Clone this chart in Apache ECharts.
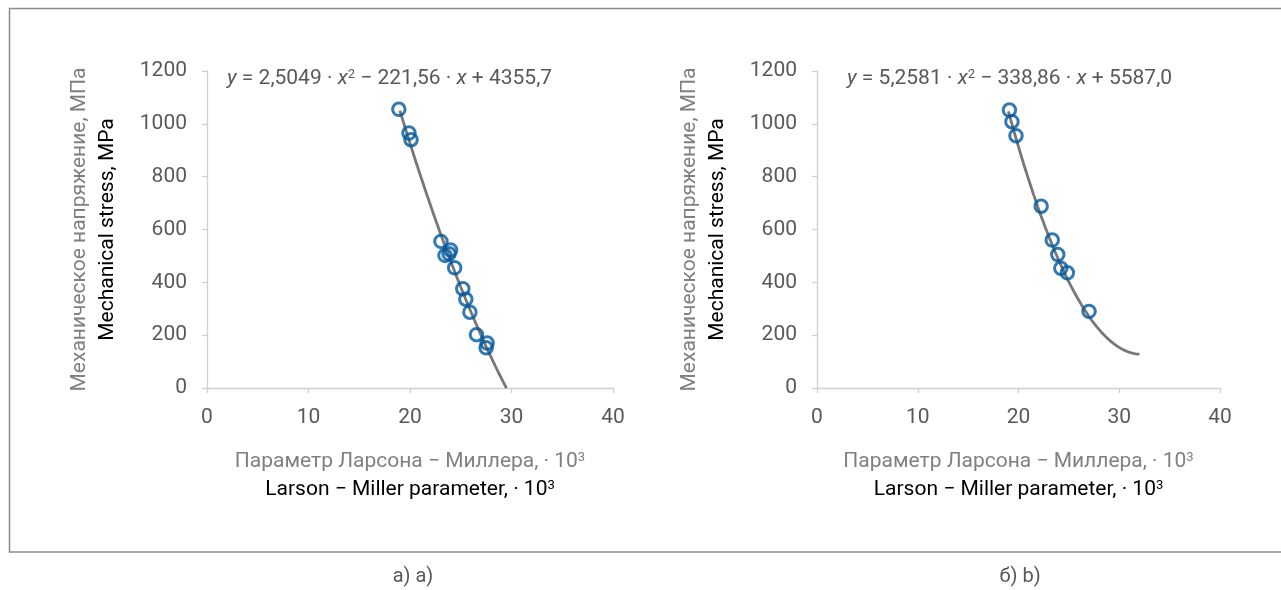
<!DOCTYPE html>
<html>
<head>
<meta charset="utf-8">
<script src="https://cdn.jsdelivr.net/npm/echarts@6/dist/echarts.min.js"></script>
<style>
  html, body { margin: 0; padding: 0; background: #fff; }
  #chart { width: 1281px; height: 590px; }
</style>
</head>
<body>
<div id="chart"></div>
<script>
// Panel a): Larson–Miller parameter (·10^3) vs. stress, MPa
const lmpA = [18.9, 19.9, 20.1, 23.05, 24.0, 23.45, 23.85, 24.4, 25.2, 25.5, 25.9, 26.55, 27.6, 27.5];
const stressA = [1055, 965, 940, 555, 522, 502, 508, 455, 376, 336, 287, 202, 170, 152];
// Panel b)
const lmpB = [19.1, 19.35, 19.75, 22.25, 23.35, 23.9, 24.2, 24.85, 27.0];
const stressB = [1052, 1008, 955, 688, 560, 505, 453, 436, 290];

// Quadratic trend coefficients [a, b, c] for y = a·x² + b·x + c, and the drawn x span
const trendA = [2.5049, -221.56, 4355.7];
const trendB = [5.2581, -338.86, 5587.0];
const spanA = [19.0, 29.5];
const spanB = [19.0, 32.0];

const xTicks = [0, 10, 20, 30, 40];
const yTicks = [0, 200, 400, 600, 800, 1000, 1200];

const eqTextA = ['2,5049', '221,56', '4355,7'];
const eqTextB = ['5,2581', '338,86', '5587,0'];
const captionA = 'а) a)';
const captionB = 'б) b)';
const yTitleRu = 'Механическое напряжение, МПа';
const yTitleEn = 'Mechanical stress, MPa';
const xTitleRu = 'Параметр Ларсона − Миллера, · 10';
const xTitleEn = 'Larson − Miller parameter, · 10';

const FONT = 'Roboto, "Noto Sans", sans-serif';
const FS = 21;
const GREY_TXT = '#595959';
const RU_TXT = '#808080';
const AXIS = '#d0d0d0';
const CURVE = '#777777';
const MARK = '#00579e';

function trendPoints(coef, span) {
  const pts = [];
  const n = 120;
  for (let i = 0; i <= n; i++) {
    const x = span[0] + (span[1] - span[0]) * i / n;
    pts.push([x, coef[0] * x * x + coef[1] * x + coef[2]]);
  }
  return pts;
}

function zip(xs, ys) { return xs.map((x, i) => [x, ys[i]]); }

const chart = echarts.init(document.getElementById('chart'), null, { renderer: 'canvas' });

const grids = [
  { left: 207, width: 406, top: 71, height: 317 },
  { left: 817, width: 403, top: 71, height: 317 }
];

function xAxisFor(i) {
  return {
    gridIndex: i, type: 'value', min: xTicks[0], max: xTicks[xTicks.length - 1], interval: 10,
    axisLine: { show: true, lineStyle: { color: AXIS, width: 1.3 } },
    axisTick: { show: true, length: 5, lineStyle: { color: AXIS, width: 1.3 } },
    splitLine: { show: false },
    axisLabel: { color: GREY_TXT, fontFamily: FONT, fontSize: FS, margin: 19, formatter: v => String(v) }
  };
}
function yAxisFor(i) {
  return {
    gridIndex: i, type: 'value', min: yTicks[0], max: yTicks[yTicks.length - 1], interval: 200,
    axisLine: { show: true, onZero: false, lineStyle: { color: AXIS, width: 1.3 } },
    axisTick: { show: true, length: 5, lineStyle: { color: AXIS, width: 1.3 } },
    splitLine: { show: false },
    axisLabel: { color: GREY_TXT, fontFamily: FONT, fontSize: FS, margin: 20, formatter: v => String(v) }
  };
}

function curveSeries(i, coef, span) {
  return {
    type: 'line', xAxisIndex: i, yAxisIndex: i, data: trendPoints(coef, span),
    showSymbol: false, smooth: false, z: 2, silent: true,
    lineStyle: { color: CURVE, width: 2.8 }
  };
}
function pointSeries(i, xs, ys) {
  return {
    type: 'scatter', xAxisIndex: i, yAxisIndex: i, data: zip(xs, ys),
    symbol: 'circle', symbolSize: 12.5, z: 3,
    itemStyle: { color: 'rgba(0,0,0,0)', borderColor: MARK, borderWidth: 3 }
  };
}

const eqRich = {
  n: { fontFamily: FONT, fontSize: FS, fill: GREY_TXT },
  i: { fontFamily: FONT, fontSize: FS, fontStyle: 'italic', fill: GREY_TXT },
  s: { fontFamily: FONT, fontSize: 13, fill: GREY_TXT, verticalAlign: 'top', padding: [0, 0, 9, 0] }
};
function eqText(parts) {
  return '{i|y}{n| = ' + parts[0] + ' · }{i|x}{s|2}{n| − ' + parts[1] + ' · }{i|x}{n| + ' + parts[2] + '}';
}

function titleGraphics(axisX, axisY, centerX, centerY) {
  const supRich = {
    ru: { fontFamily: FONT, fontSize: FS, fill: RU_TXT },
    en: { fontFamily: FONT, fontSize: FS, fill: '#000' },
    rs: { fontFamily: FONT, fontSize: 13, fill: RU_TXT, verticalAlign: 'top', padding: [0, 0, 9, 0] },
    es: { fontFamily: FONT, fontSize: 13, fill: '#000', verticalAlign: 'top', padding: [0, 0, 9, 0] }
  };
  return [
    { type: 'text', x: axisX - 127, y: centerY, rotation: Math.PI / 2,
      style: { text: yTitleRu, fontFamily: FONT, fontSize: FS, fill: RU_TXT, align: 'center', verticalAlign: 'middle' } },
    { type: 'text', x: axisX - 99, y: centerY, rotation: Math.PI / 2,
      style: { text: yTitleEn, fontFamily: FONT, fontSize: FS, fill: '#000', align: 'center', verticalAlign: 'middle' } },
    { type: 'text', x: centerX, y: axisY + 74,
      style: { text: '{ru|' + xTitleRu + '}{rs|3}', rich: supRich, align: 'center', verticalAlign: 'middle' } },
    { type: 'text', x: centerX, y: axisY + 102,
      style: { text: '{en|' + xTitleEn + '}{es|3}', rich: supRich, align: 'center', verticalAlign: 'middle' } }
  ];
}

const option = {
  animation: false,
  backgroundColor: '#fff',
  grid: grids.map(g => Object.assign({ containLabel: false }, g)),
  xAxis: [xAxisFor(0), xAxisFor(1)],
  yAxis: [yAxisFor(0), yAxisFor(1)],
  series: [
    curveSeries(0, trendA, spanA),
    pointSeries(0, lmpA, stressA),
    curveSeries(1, trendB, spanB),
    pointSeries(1, lmpB, stressB)
  ],
  graphic: [
    { type: 'rect', shape: { x: 9.5, y: 8.5, width: 1290, height: 543.5 },
      style: { fill: 'none', stroke: '#8a8a8a', lineWidth: 1.5 }, z: -1 },
    { type: 'text', x: 227, y: 79, style: { text: eqText(eqTextA), rich: eqRich, verticalAlign: 'middle' } },
    { type: 'text', x: 847, y: 79, style: { text: eqText(eqTextB), rich: eqRich, verticalAlign: 'middle' } },
    ...titleGraphics(207, 388, 410, 229.5),
    ...titleGraphics(817, 388, 1018.5, 229.5),
    { type: 'text', x: 413, y: 577, style: { text: captionA, fontFamily: FONT, fontSize: 20, fill: GREY_TXT, align: 'center', verticalAlign: 'middle' } },
    { type: 'text', x: 1020, y: 577, style: { text: captionB, fontFamily: FONT, fontSize: 20, fill: GREY_TXT, align: 'center', verticalAlign: 'middle' } }
  ]
};

chart.setOption(option);
</script>
</body>
</html>
